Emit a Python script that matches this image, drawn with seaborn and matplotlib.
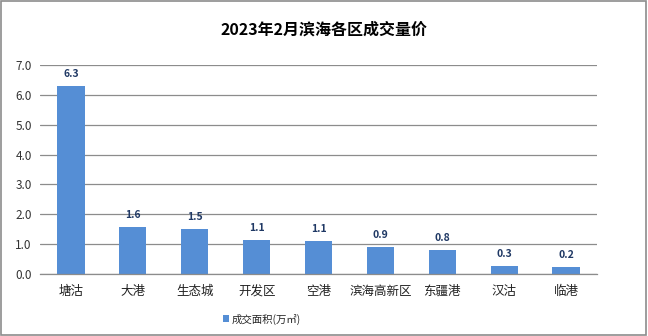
import matplotlib
matplotlib.use("Agg")
import matplotlib.pyplot as plt
import seaborn as sns
import pandas as pd
from matplotlib.patches import Rectangle, Patch

categories = ["塘沽", "大港", "生态城", "开发区", "空港", "滨海高新区", "东疆港", "汉沽", "临港"]
values = [6.31, 1.58, 1.52, 1.14, 1.11, 0.91, 0.81, 0.27, 0.22]
labels = ["6.3", "1.6", "1.5", "1.1", "1.1", "0.9", "0.8", "0.3", "0.2"]
series_name = "成交面积(万㎡)"
title = "2023年2月滨海各区成交量价"
yticks = [0, 1, 2, 3, 4, 5, 6, 7]

sns.set_theme(style="white")
plt.rcParams['font.family'] = ['Noto Sans CJK SC', 'DejaVu Sans']

df = pd.DataFrame({"cat": categories, "val": values})

fig = plt.figure(figsize=(6.48, 3.36), dpi=100)
ax = fig.add_axes([40/648, 1 - 274/336, (597-40)/648, (274-65)/336])

bar_color = "#558ED5"
sns.barplot(data=df, x="cat", y="val", color=bar_color, width=0.44, ax=ax,
            saturation=1, edgecolor="none")

ax.set_ylim(0, 7)
ax.set_xlim(-0.5, len(categories) - 0.5)
ax.set_yticks(yticks)
ax.set_yticklabels([f"{v:.1f}" for v in yticks], fontsize=8.5, color="#333333")
ax.tick_params(axis="x", labelsize=9, colors="#222222", length=0, pad=8)
ax.tick_params(axis="y", length=0, pad=6)
ax.set_xlabel("")
ax.set_ylabel("")
ax.yaxis.grid(True, color="#8c8c8c", linewidth=0.9)
ax.set_axisbelow(True)
for s in ["left", "right", "top"]:
    ax.spines[s].set_visible(False)
ax.spines["bottom"].set_color("#8c8c8c")
ax.spines["bottom"].set_linewidth(0.9)

for i, (v, t) in enumerate(zip(values, labels)):
    ax.annotate(t, (i, v), xytext=(0, 5), textcoords="offset points",
                ha="center", va="bottom", fontsize=7.5, fontweight="bold",
                color="#1F3864")

fig.text(0.5, 1 - 30/336, title, ha="center", va="center", fontsize=11.5,
         fontweight="bold", color="black")

handle = Patch(facecolor=bar_color, edgecolor="none")
fig.legend([handle], [series_name], loc="center", bbox_to_anchor=(262/648, 1 - 319/336),
           frameon=False, fontsize=7.5, handlelength=0.6, handleheight=0.6,
           handletextpad=0.2, borderpad=0)

fig.patches.append(Rectangle((0.002, 0.003), 0.995, 0.993, transform=fig.transFigure,
                             fill=False, edgecolor="#8c8c8c", linewidth=1.2))

fig.savefig("out.png", dpi=100)
